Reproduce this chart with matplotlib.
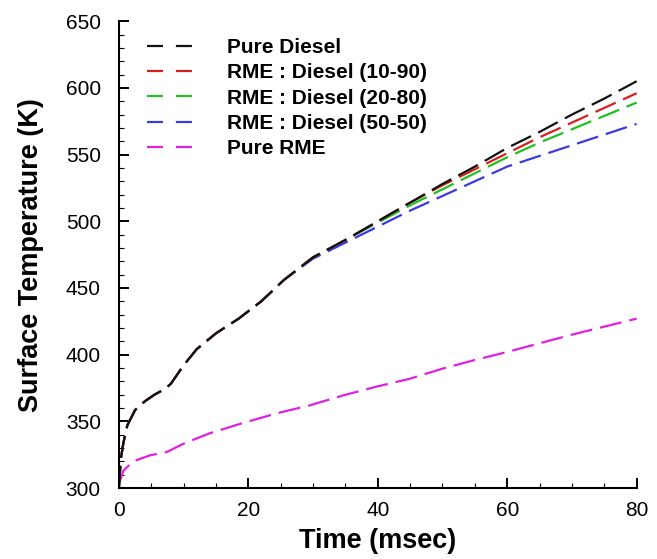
import matplotlib
matplotlib.use("Agg")
import matplotlib.pyplot as plt
from matplotlib.lines import Line2D

plt.rcParams['font.family'] = ['Liberation Sans', 'DejaVu Sans']

# time (msec)
t = [0, 0.3, 0.7, 1.3, 2.5, 4, 5.5, 7, 8, 9, 10, 11, 12, 13.5, 15, 18.5, 22, 25.5,
     30, 35, 40, 45, 50, 55, 60, 65, 70, 75, 80]

# surface temperature (K)
pure_diesel = [300, 322, 334, 347, 358.5, 365, 370, 374, 378, 385, 392, 398, 404, 410,
               416, 427, 440, 456, 473, 486, 500, 514, 528, 541, 555, 567, 580, 592, 605]
rme_10_90 = [300, 322, 334, 347, 358.5, 365, 370, 374, 378, 385, 392, 398, 404, 410,
             416, 427, 440, 456, 473, 486, 500, 514, 527, 539, 551, 563, 574, 585, 596]
rme_20_80 = [300, 322, 334, 347, 358.5, 365, 370, 374, 378, 385, 392, 398, 404, 410,
             416, 427, 440, 456, 473, 486, 499, 512, 524, 536, 548, 559, 569, 579, 589]
rme_50_50 = [300, 322, 334, 347, 358.5, 365, 370, 374, 378, 385, 392, 398, 404, 410,
             416, 427, 440, 456, 472, 484, 496, 508, 519, 530, 541, 549, 557, 565, 573]

t_rme = [0, 0.7, 2.2, 4.8, 7.4, 9.9, 14, 19, 24.4, 29.5, 34.7, 39.8, 45, 50, 55,
         60, 65, 70, 75, 80]
pure_rme = [303, 313, 320, 324.5, 327, 333, 341, 348.5, 356, 362, 369.5, 376, 382,
            389.5, 396, 402, 408.5, 415, 421, 427]

labels = ['Pure Diesel', 'RME : Diesel (10-90)', 'RME : Diesel (20-80)',
          'RME : Diesel (50-50)', 'Pure RME']
colors = ['#111111', '#d62020', '#20c020', '#3a3ae0', '#e020e0']

fig = plt.figure(figsize=(6.57, 5.59), dpi=100)
ax = fig.add_axes([0.181, 0.127, 0.788, 0.835])

lw = 1.6
dash = (10, 3.6)
ax.plot(t_rme, pure_rme, color=colors[4], lw=lw, dashes=dash)
ax.plot(t, rme_50_50, color=colors[3], lw=lw, dashes=dash)
ax.plot(t, rme_20_80, color=colors[2], lw=lw, dashes=dash)
ax.plot(t, rme_10_90, color=colors[1], lw=lw, dashes=dash)
ax.plot(t, pure_diesel, color=colors[0], lw=lw, dashes=dash)

ax.set_xlim(0, 80)
ax.set_ylim(300, 650)
ax.set_xticks([0, 20, 40, 60, 80])
ax.set_xticks(range(0, 81, 5), minor=True)
ax.set_yticks(range(300, 651, 50))
ax.set_yticks(range(300, 651, 10), minor=True)

for s in ['top', 'right']:
    ax.spines[s].set_visible(False)
for s in ['left', 'bottom']:
    ax.spines[s].set_linewidth(1.5)

ax.tick_params(which='both', direction='in', top=False, right=False, labelsize=15)
ax.tick_params(which='major', length=7, width=1.4)
ax.tick_params(which='minor', length=3.5, width=0.8)
ax.tick_params(axis='x', which='major', pad=9)
ax.tick_params(axis='y', which='major', pad=13)

ax.set_xlabel('Time (msec)', fontsize=19.5, fontweight='bold', labelpad=6)
ax.set_ylabel('Surface Temperature (K)', fontsize=19.5, fontweight='bold', labelpad=16)

handles = [Line2D([], [], color=c, lw=lw, dashes=(7.2, 5.8)) for c in colors]
ax.legend(handles, labels, loc='upper left', bbox_to_anchor=(0.055, 0.964),
          frameon=False, prop={'size': 15, 'weight': 'bold'},
          handlelength=2.2, handletextpad=1.6, labelspacing=0.3,
          borderpad=0, borderaxespad=0)

fig.savefig('out.png', dpi=100)
